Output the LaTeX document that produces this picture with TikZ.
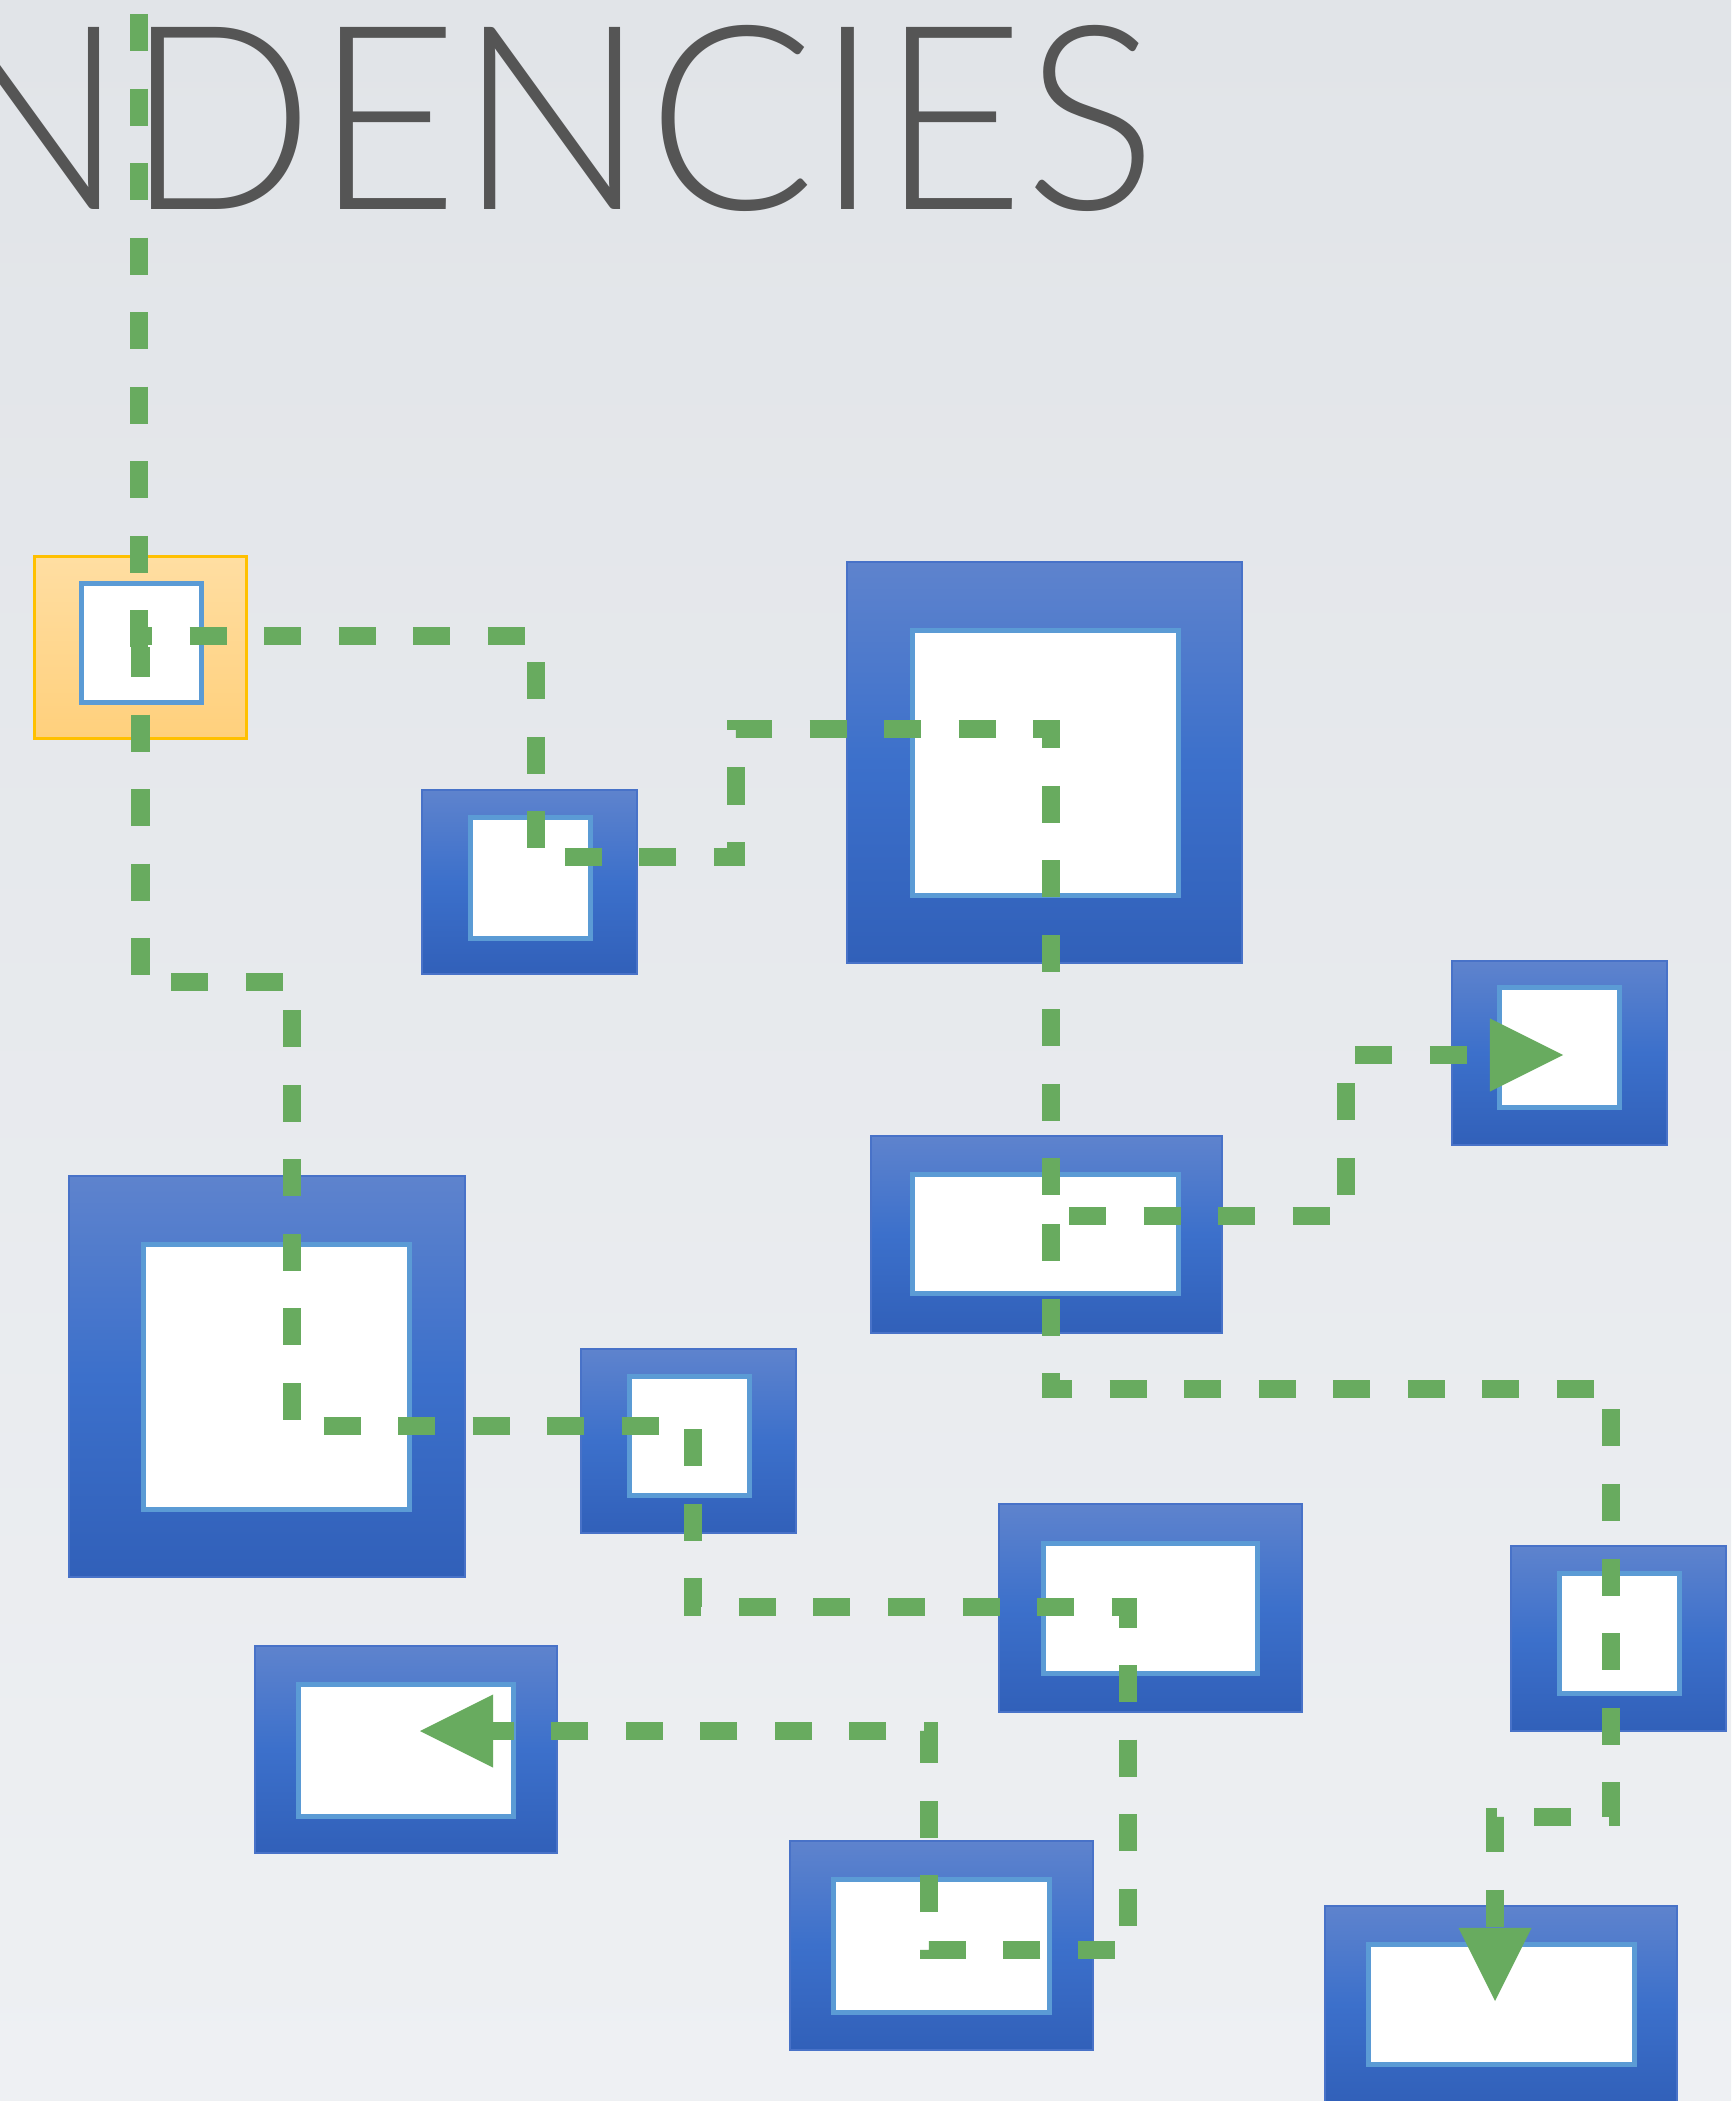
\documentclass[tikz,border=0pt]{standalone}
\usepackage{fontspec}
\usepackage{graphicx}
\usetikzlibrary{arrows.meta,calc}
\IfFontExistsTF{Lato Light}{\newfontfamily\titlefont{Lato Light}}{\newfontfamily\titlefont{Lato}}
\definecolor{bgtop}{RGB}{225,228,232}
\definecolor{bgbot}{RGB}{238,240,243}
\definecolor{titlegray}{RGB}{85,85,85}
\definecolor{btop}{RGB}{94,131,205}
\definecolor{bmid}{RGB}{60,112,203}
\definecolor{bbot}{RGB}{49,96,185}
\definecolor{bedge}{RGB}{72,114,200}
\definecolor{otop}{RGB}{255,222,162}
\definecolor{obot}{RGB}{255,208,124}
\definecolor{oedge}{RGB}{255,192,0}
\definecolor{inedge}{RGB}{91,155,213}
\definecolor{depgreen}{RGB}{104,171,95}
\tikzset{
  outerbox/.style 2 args={rectangle, inner sep=0pt, outer sep=0pt,
    minimum width=(#1-2)*0.01cm, minimum height=(#2-2)*0.01cm,
    top color=btop, bottom color=bbot, middle color=bmid,
    draw=bedge, line width=0.02cm},
  selbox/.style 2 args={rectangle, inner sep=0pt, outer sep=0pt,
    minimum width=(#1-3)*0.01cm, minimum height=(#2-3)*0.01cm,
    top color=otop, bottom color=obot,
    draw=oedge, line width=0.03cm},
  innerbox/.style 2 args={rectangle, inner sep=0pt, outer sep=0pt,
    minimum width=(#1-5)*0.01cm, minimum height=(#2-5)*0.01cm,
    fill=white, draw=inedge, line width=0.05cm},
  depline/.style={draw=depgreen, line width=0.18cm,
    dash pattern=on 0.37cm off 0.375cm},
  arr/.style={-{Triangle[length=0.73cm,width=0.73cm,line width=0pt]}},
}
\begin{document}
\begin{tikzpicture}[x=0.01cm,y=-0.01cm]
\useasboundingbox (0,0) rectangle (1731,2101);
\clip (0,0) rectangle (1731,2101);
\fill[top color=bgtop, bottom color=bgbot] (0,0) rectangle (1731,2101);

% title
\node[anchor=base west, inner sep=0pt, outer sep=0pt, text=titlegray] (title) at (-63,210)
  {\resizebox{12.2cm}{1.84cm}{\titlefont NDENCIES}};

% boxes
\node[selbox={215}{185}] (orange) at (140.5,647.5) {};
\node[innerbox={125}{124}] (oin) at (141.5,643) {};

\node[outerbox={217}{186}] (b1) at (529.5,882) {};
\node[innerbox={125}{126}] (b1in) at (530.5,878) {};

\node[outerbox={397}{403}] (b2) at (1044.5,762.5) {};
\node[innerbox={271}{270}] (b2in) at (1045.5,763) {};

\node[outerbox={217}{186}] (b3) at (1559.5,1053) {};
\node[innerbox={125}{125}] (b3in) at (1559.5,1047.5) {};

\node[outerbox={353}{199}] (b4) at (1046.5,1234.5) {};
\node[innerbox={271}{124}] (b4in) at (1045.5,1234) {};

\node[outerbox={398}{403}] (b5) at (267,1376.5) {};
\node[innerbox={271}{270}] (b5in) at (276.5,1377) {};

\node[outerbox={217}{186}] (b6) at (688.5,1441) {};
\node[innerbox={125}{124}] (b6in) at (689.5,1436) {};

\node[outerbox={304}{209}] (b7) at (406,1749.5) {};
\node[innerbox={220}{137}] (b7in) at (406,1750.5) {};

\node[outerbox={305}{210}] (b8) at (1150.5,1608) {};
\node[innerbox={219}{135}] (b8in) at (1150.5,1608.5) {};

\node[outerbox={217}{187}] (b9) at (1618.5,1638.5) {};
\node[innerbox={125}{125}] (b9in) at (1619.5,1633.5) {};

\node[outerbox={305}{211}] (b10) at (941.5,1945.5) {};
\node[innerbox={221}{138}] (b10in) at (941.5,1946) {};

\node[outerbox={354}{199}] (b11) at (1501,2004.5) {};
\node[innerbox={271}{125}] (b11in) at (1501.5,2004.5) {};

% connector end points
\coordinate (topin) at (139,0);
\coordinate (o2) at (140.5,636);
\coordinate (p1end) at (420,1731);
\coordinate (p2end) at (1051,1210);
\coordinate (p3start) at (1051,1224);
\coordinate (p3end) at (1495,2001);
\coordinate (p4start) at (1051,1216);
\coordinate (p4end) at (1563,1055);

% connectors
\draw[depline, dash phase=0.605cm] (topin) -- (topin |- orange.center);
\draw[depline, arr, dash phase=0.075cm] (orange.center) |- (292,982) |- (693,1426)
  |- (1128,1607) |- (929,1950) |- (p1end);
\draw[depline, dash phase=0.255cm] (o2) -| (536,857) -| (736,729) -| (p2end);
\draw[depline, arr] (p3start) |- (1611,1389) |- (1495,1817) -- (p3end);
\draw[depline, arr, dash phase=0.565cm] (p4start) -| (1346,1055) -- (p4end);
\end{tikzpicture}
\end{document}
